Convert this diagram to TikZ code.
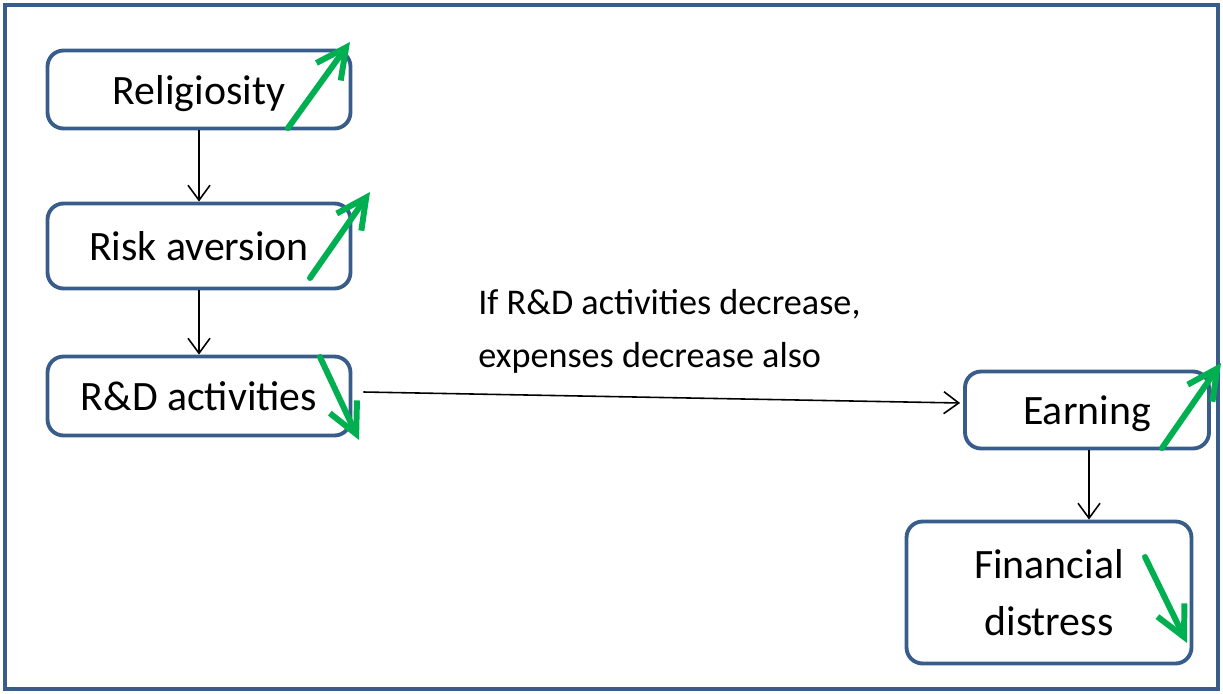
\documentclass[tikz,border=0pt]{standalone}
\usepackage{fontspec}
\setmainfont{Carlito}
\usetikzlibrary{arrows.meta}
\definecolor{boxblue}{RGB}{56,93,138}
\definecolor{trendgreen}{RGB}{0,176,80}
\tikzset{
	factor/.style={draw=boxblue, line width=2.2pt, rounded corners=0.32cm, align=center, inner sep=0pt, font=\fontsize{23.8}{32.4}\selectfont},
	link/.style={line width=0.9pt, -{Straight Barb[length=3mm,width=4.4mm]}},
	trend/.style={draw=trendgreen, line width=3.4pt, line cap=round, -{Straight Barb[length=6mm,width=6mm]}}
}
\begin{document}
\begin{tikzpicture}[x=0.02cm, y=-0.02cm]
	\useasboundingbox (0,0) rectangle (1223,693);
	\draw[boxblue, line width=1.8pt] (5,5) rectangle (1218,689);
	
	% left column
	\node(relig)[factor, text depth=0pt, minimum width=6.06cm, minimum height=1.56cm] at (199,89.5) {Religiosity};
	\node(risk)[factor, minimum width=6.06cm, minimum height=1.7cm] at (199,246) {Risk aversion};
	\node(rnd)[factor, minimum width=6.06cm, minimum height=1.58cm] at (199,396) {R\&D activities};
	
	% right column
	\node(earn)[factor, text depth=0pt, minimum width=4.88cm, minimum height=1.54cm] at (1087,410) {Earning};
	\node(fin)[factor, minimum width=5.7cm, minimum height=2.84cm] at (1049,592.5) {Financial\\distress};
	
	\node(note)[font=\fontsize{20.6}{30}\selectfont, align=left, anchor=west, inner sep=0pt] at (478,331) {If R\&D activities decrease,\\expenses decrease also};
	
	\draw[link] (relig) -- (risk);
	\draw[link] (risk) -- (rnd);
	\draw[link] ([shift={(11,-4)}]rnd.east) -- ([shift={(-3,-7)}]earn.west);
	\draw[link] ([xshift=0.04cm]earn.south) coordinate(drop) -- (drop |- fin.north);
	
	% up / down trends
	\draw[trend] (288,128) -- (350,42);
	\draw[trend] (310,278) -- (370,192);
	\draw[trend] (320,357) -- (359,440);
	\draw[trend] (1162,448) -- (1221,363);
	\draw[trend] (1145,557) -- (1187,643);
\end{tikzpicture}
\end{document}
